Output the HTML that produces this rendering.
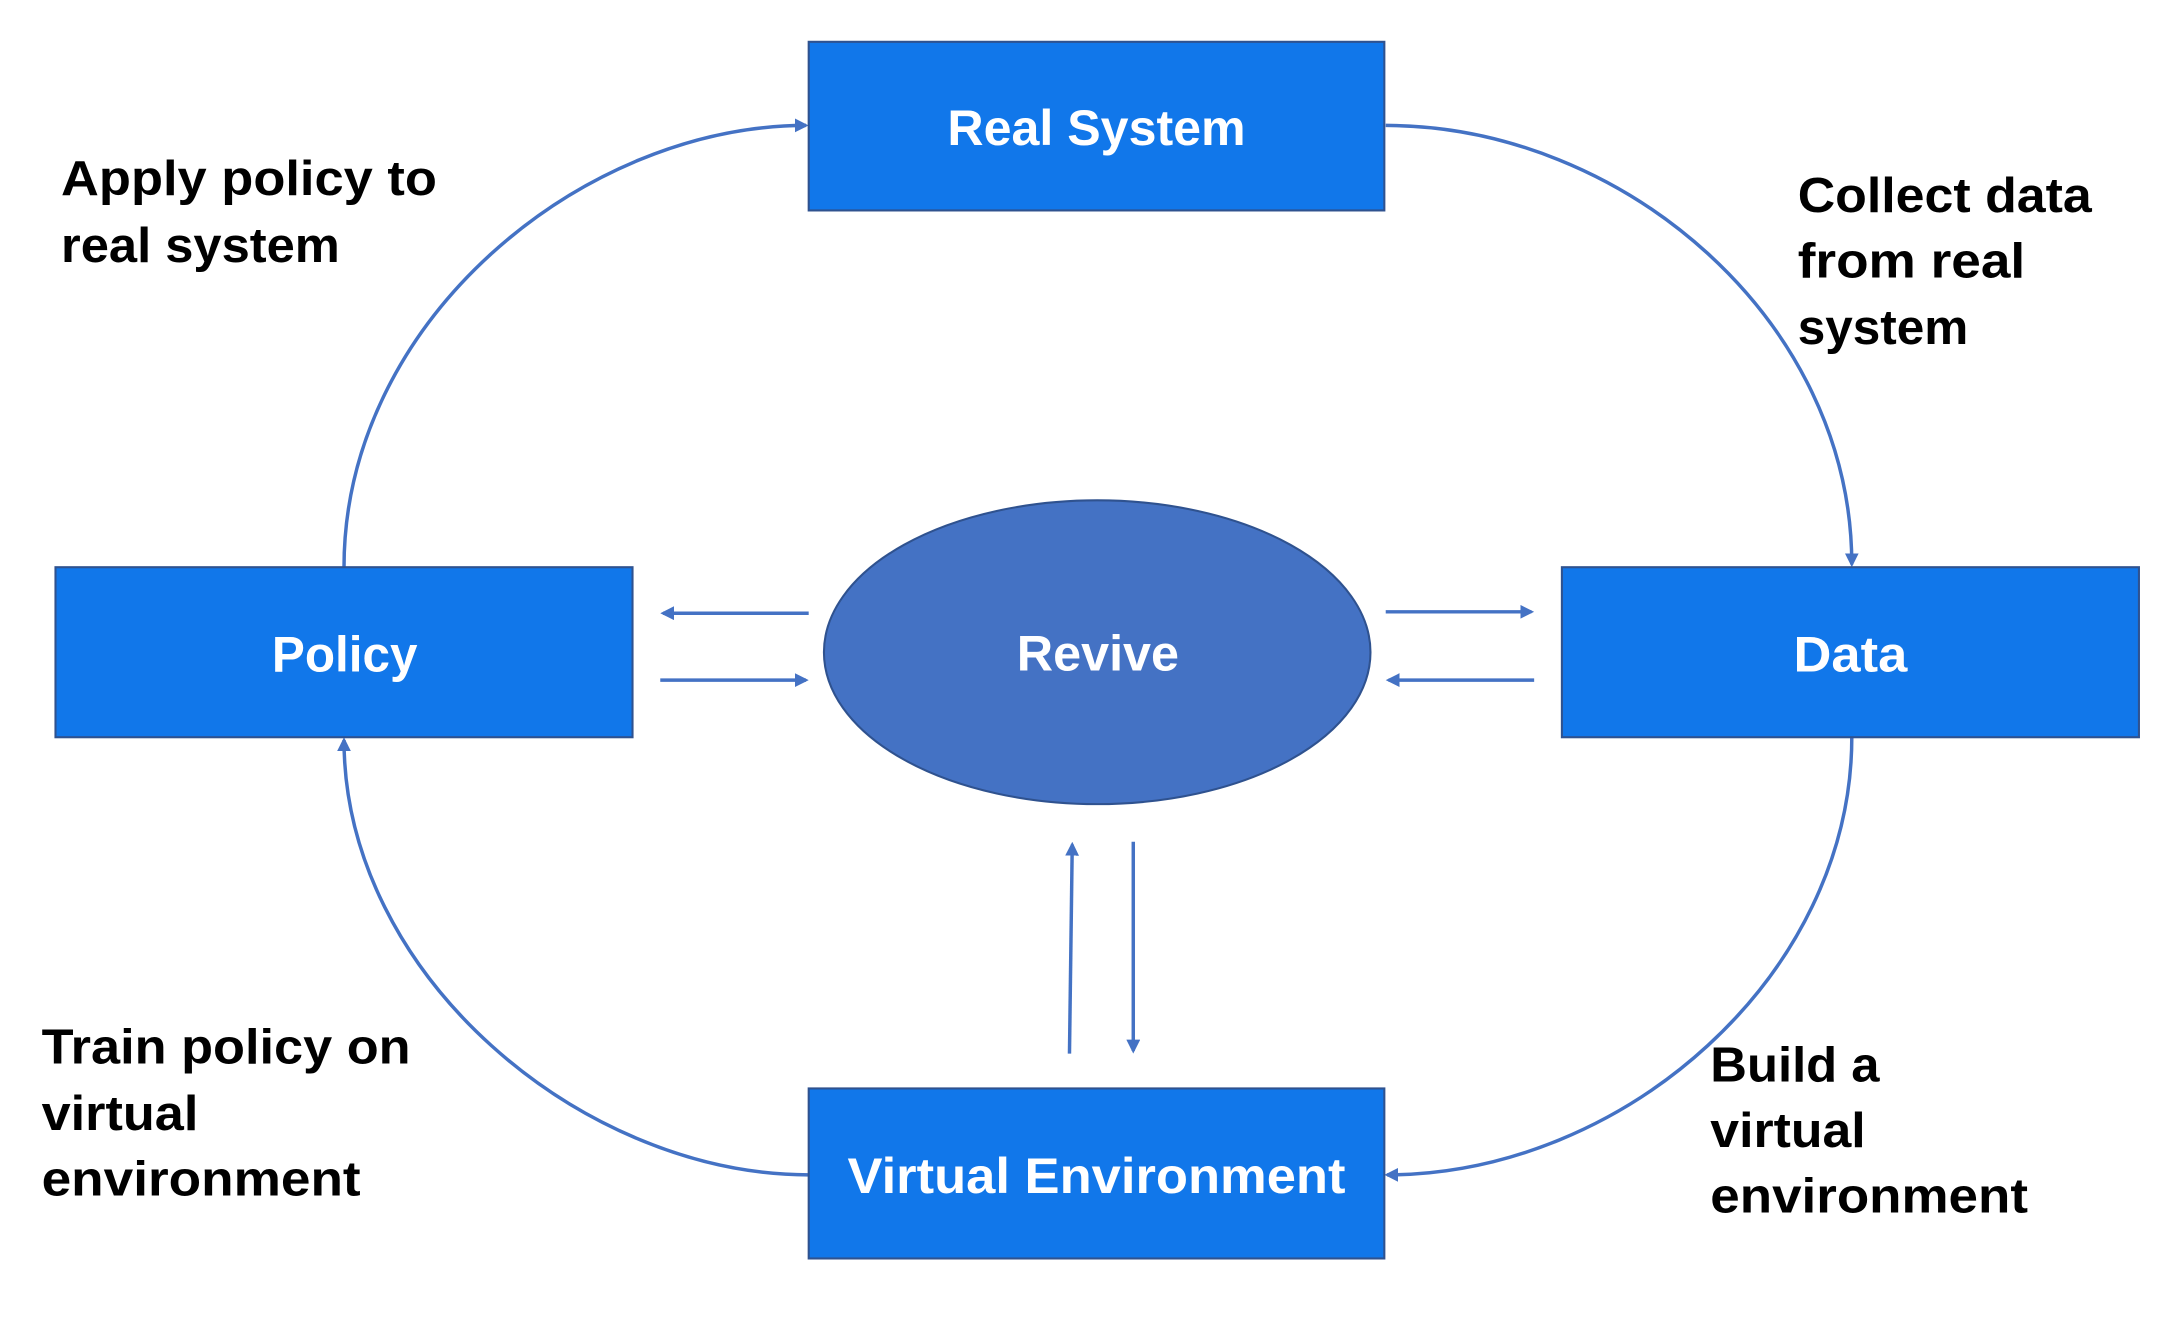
<!DOCTYPE html>
<html><head><meta charset="utf-8"><style>
html,body{margin:0;padding:0;background:#fff;}
svg{display:block;}
text{font-family:"Liberation Sans","DejaVu Sans",sans-serif;}
.lbl{font-size:35px;fill:#000;font-weight:bold;}
.box{font-size:36px;fill:#fff;font-weight:bold;}
</style></head><body>
<svg width="2175" height="1317" viewBox="0 0 1568 945" preserveAspectRatio="none" xmlns="http://www.w3.org/2000/svg">
<defs>
<marker id="a" markerWidth="10" markerHeight="10" refX="8" refY="5" orient="auto" markerUnits="userSpaceOnUse">
<path d="M0,0 L10,5 L0,10 z" fill="#4472C4"/></marker>
</defs>
<g fill="none" stroke="#4472C4" stroke-width="2.5">
<path d="M248,407 C248,230 420,90 581,90" marker-end="url(#a)"/>
<path d="M999,90 C1170,90 1335,230 1335,405" marker-end="url(#a)"/>
<path d="M1335,529 C1335,700 1170,843 1000,843" marker-end="url(#a)"/>
<path d="M583,843 C420,843 248,700 248,531" marker-end="url(#a)"/>
<path d="M583,440 L478,440" marker-end="url(#a)"/>
<path d="M476,488 L581,488" marker-end="url(#a)"/>
<path d="M999,439 L1104,439" marker-end="url(#a)"/>
<path d="M1106,488 L1001,488" marker-end="url(#a)"/>
<path d="M771,756 L773,606" marker-end="url(#a)"/>
<path d="M817,604 L817,754" marker-end="url(#a)"/>
</g>
<g fill="#1177EA" stroke="#2F528F" stroke-width="1.5">
<rect x="583" y="30" width="415" height="121"/>
<rect x="40" y="407" width="416" height="122"/>
<rect x="1126" y="407" width="416" height="122"/>
<rect x="583" y="781" width="415" height="122"/>
</g>
<ellipse cx="791" cy="468" rx="197" ry="109" fill="#4472C4" stroke="#2F528F" stroke-width="1.5"/>
<g class="box" lengthAdjust="spacingAndGlyphs">
<text x="683" y="104" textLength="215" lengthAdjust="spacingAndGlyphs">Real System</text>
<text x="196" y="482" textLength="105" lengthAdjust="spacingAndGlyphs">Policy</text>
<text x="1293" y="482" textLength="82" lengthAdjust="spacingAndGlyphs">Data</text>
<text x="733" y="481" textLength="117" lengthAdjust="spacingAndGlyphs">Revive</text>
<text x="611" y="856" textLength="359" lengthAdjust="spacingAndGlyphs">Virtual Environment</text>
</g>
<g class="lbl">
<text x="44" y="140" textLength="271" lengthAdjust="spacingAndGlyphs">Apply policy to</text>
<text x="44" y="188" textLength="201" lengthAdjust="spacingAndGlyphs">real system</text>
<text x="1296" y="152" textLength="212" lengthAdjust="spacingAndGlyphs">Collect data</text>
<text x="1296" y="199" textLength="164" lengthAdjust="spacingAndGlyphs">from real</text>
<text x="1296" y="247" textLength="123" lengthAdjust="spacingAndGlyphs">system</text>
<text x="30" y="763" textLength="266" lengthAdjust="spacingAndGlyphs">Train policy on</text>
<text x="30" y="811" textLength="113" lengthAdjust="spacingAndGlyphs">virtual</text>
<text x="30" y="858" textLength="230" lengthAdjust="spacingAndGlyphs">environment</text>
<text x="1233" y="776" textLength="122" lengthAdjust="spacingAndGlyphs">Build a</text>
<text x="1233" y="823" textLength="112" lengthAdjust="spacingAndGlyphs">virtual</text>
<text x="1233" y="870" textLength="229" lengthAdjust="spacingAndGlyphs">environment</text>
</g>
</svg>
</body></html>
